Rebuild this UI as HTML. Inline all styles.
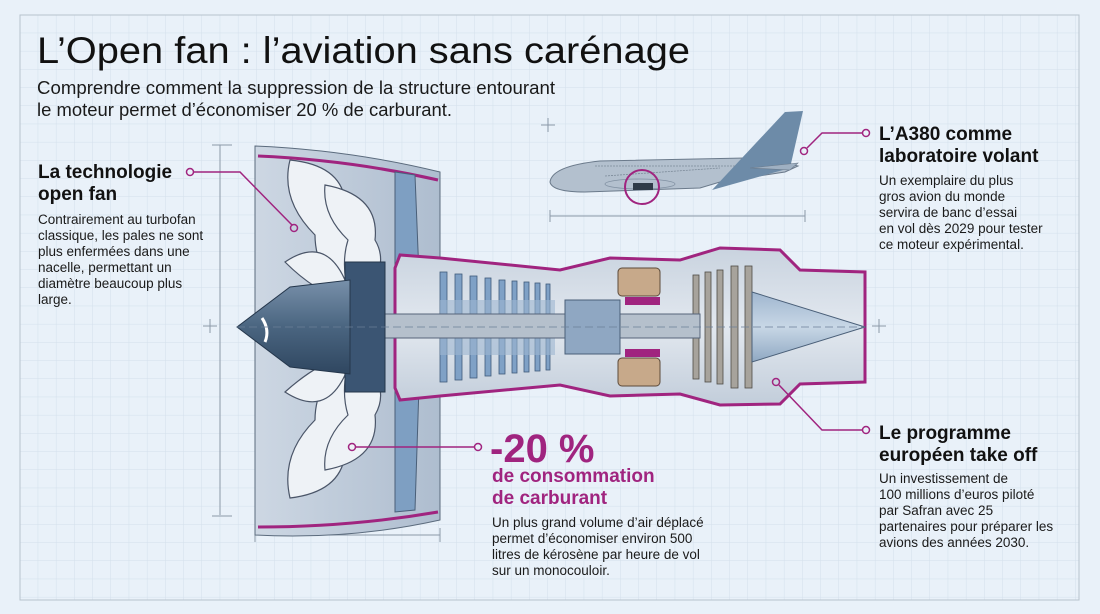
<!DOCTYPE html>
<html><head><meta charset="utf-8"><style>
html,body{margin:0;padding:0;background:#e9f1f9;}
svg{display:block}
text{font-family:"Liberation Sans",sans-serif;}
.h{font-weight:bold;font-size:19px;fill:#111}
.b{font-size:13.5px;fill:#1a1a1a}
.m{fill:#a0247f;font-weight:bold}
</style></head><body>
<svg width="1100" height="614" viewBox="0 0 1100 614" xmlns="http://www.w3.org/2000/svg">
<defs>
<pattern id="g" x="20" y="15" width="18.2" height="18.2" patternUnits="userSpaceOnUse">
<path d="M18.2 0V18.2H0" fill="none" stroke="#d3dfeb" stroke-width="1"/>
</pattern>
<linearGradient id="nac" x1="0" x2="1"><stop offset="0" stop-color="#cdd7e3"/><stop offset="1" stop-color="#aebdcf"/></linearGradient>
<linearGradient id="core" x1="0" y1="0" x2="0" y2="1"><stop offset="0" stop-color="#c9d3df"/><stop offset=".5" stop-color="#e2e8ef"/><stop offset="1" stop-color="#c2cdda"/></linearGradient>
<linearGradient id="cone" x1="0" y1="0" x2="0" y2="1"><stop offset="0" stop-color="#9fb6cf"/><stop offset=".5" stop-color="#c8d7e6"/><stop offset="1" stop-color="#8fa8c2"/></linearGradient>
<linearGradient id="sp" x1="0" y1="0" x2="0" y2="1"><stop offset="0" stop-color="#7890aa"/><stop offset=".5" stop-color="#4a6580"/><stop offset="1" stop-color="#2f4660"/></linearGradient>
</defs>
<rect width="1100" height="614" fill="#e9f1f9"/>
<rect x="20" y="15" width="1059" height="585" fill="url(#g)" stroke="#b7c2cd" stroke-width="1"/>

<text x="37" y="63" font-size="37" fill="#111" textLength="653" lengthAdjust="spacingAndGlyphs">L’Open fan : l’aviation sans carénage</text>
<text x="37" y="94" font-size="18.5" fill="#1a1a1a" textLength="518" lengthAdjust="spacingAndGlyphs">Comprendre comment la suppression de la structure entourant</text>
<text x="37" y="116" font-size="18.5" fill="#1a1a1a" textLength="415" lengthAdjust="spacingAndGlyphs">le moteur permet d’économiser 20 % de carburant.</text>

<g stroke="#8c99a8" stroke-width="1" fill="none">
<path d="M220 145V515M212 145H232M212 516H232"/>
<path d="M255 535H440M255 528V542M440 528V542"/>
<path d="M550 216H805M550 210V222M805 210V222"/>
<path d="M203 326H217M210 319V333M541 125H555M548 118V132M872 326H886M879 319V333"/>
</g>

<path d="M255 146 Q350 150 440 172 V520 Q350 540 255 535 Z" fill="url(#nac)" stroke="#5b6b7d"/>
<path d="M258 156 Q350 160 438 180" stroke="#a0247f" stroke-width="3" fill="none"/>
<path d="M258 527 Q350 527 438 512" stroke="#a0247f" stroke-width="3" fill="none"/>
<path d="M395 172 L415 175 L420 300 L395 300 Z" fill="#7e9fc2" stroke="#4a5f78"/>
<path d="M395 355 L420 355 L415 510 L395 512 Z" fill="#7e9fc2" stroke="#4a5f78"/>
<g fill="#eef2f6" stroke="#4a5568" stroke-width="1.2">
<path d="M290 160 Q340 165 345 200 Q375 225 355 255 L345 300 Q315 270 315 235 Q280 200 290 160Z"/>
<path d="M325 185 Q380 195 375 240 Q390 265 365 295 L350 300 Q340 265 348 240 Q322 215 325 185Z"/>
<path d="M290 498 Q340 492 345 455 Q375 430 355 400 L345 355 Q315 385 315 420 Q280 455 290 498Z"/>
<path d="M325 470 Q380 460 375 415 Q390 390 365 360 L350 355 Q340 390 348 415 Q322 440 325 470Z"/>
<path d="M285 262 Q325 235 345 280 L345 300 Q315 292 285 262Z"/>
<path d="M285 392 Q325 418 345 375 L345 355 Q315 365 285 392Z"/>
</g>
<path d="M395 268 L400 255 L440 258 L560 270 L610 258 L680 260 L720 248 L780 250 L800 270 L865 272 V382 L800 384 L780 404 L720 405 L680 394 L610 396 L560 385 L440 396 L400 400 L395 388 Z" fill="url(#core)" stroke="#a0247f" stroke-width="3"/>
<g fill="#7fa1c6" stroke="#3f5b7a" stroke-width=".8">
<rect x="440" y="272" width="7" height="110"/><rect x="455" y="274" width="7" height="106"/><rect x="470" y="276" width="7" height="102"/><rect x="485" y="278" width="6" height="98"/><rect x="499" y="280" width="6" height="94"/><rect x="512" y="281" width="5" height="92"/><rect x="524" y="282" width="5" height="90"/><rect x="535" y="283" width="5" height="88"/><rect x="546" y="284" width="4" height="86"/>
</g>
<rect x="440" y="300" width="115" height="55" fill="#9db6d1" opacity=".6"/>
<rect x="618" y="268" width="42" height="28" rx="4" fill="#c7a98a" stroke="#5c4a3a"/>
<rect x="618" y="358" width="42" height="28" rx="4" fill="#c7a98a" stroke="#5c4a3a"/>
<rect x="625" y="297" width="35" height="8" fill="#a0247f"/>
<rect x="625" y="349" width="35" height="8" fill="#a0247f"/>
<g fill="#a7a39c" stroke="#4e4a45" stroke-width=".8">
<rect x="693" y="275" width="6" height="104"/><rect x="705" y="272" width="6" height="110"/><rect x="717" y="270" width="6" height="114"/><rect x="731" y="266" width="7" height="122"/><rect x="745" y="266" width="7" height="122"/>
</g>
<rect x="380" y="314" width="320" height="24" fill="#b5c0cc" stroke="#56657a"/>
<rect x="565" y="300" width="55" height="54" fill="#8fa7c2" stroke="#4a5f78"/>
<path d="M752 292 L865 327 L752 362 Z" fill="url(#cone)" stroke="#4a5f78"/>
<rect x="345" y="262" width="40" height="130" fill="#3b5573" stroke="#24364b"/>
<path d="M237 327 L290 287 L350 280 V374 L290 367 Z" fill="url(#sp)" stroke="#24364b"/>
<path d="M262 318 Q270 330 265 342" stroke="#fff" stroke-width="3" fill="none"/>
<line x1="237" y1="327" x2="865" y2="327" stroke="#6b7f96" stroke-dasharray="8 4" stroke-width=".7"/>

<!-- plane -->
<path d="M550 182 Q552 166 600 161 L745 158 L775 160 L798 166 L785 172 L720 182 L700 188 L585 192 Q552 192 550 182Z" fill="#b3c0ce" stroke="#6b7a8b"/>
<path d="M712 190 L785 112 L803 111 L790 168 Z" fill="#6d8ba8"/>
<path d="M750 168 L798 163 L790 170 Z" fill="#9fb0c2" stroke="#6b7a8b" stroke-width=".6"/>
<path d="M605 176 L720 168 M595 166 H735" stroke="#7d8b9a" stroke-dasharray="2 1" stroke-width=".8"/>
<ellipse cx="640" cy="184" rx="35" ry="5" fill="none" stroke="#8090a2" stroke-width=".8"/>
<circle cx="642" cy="187" r="17" fill="none" stroke="#a0247f" stroke-width="2"/>
<rect x="633" y="183" width="20" height="7" fill="#2f3b48"/>

<g stroke="#a0247f" stroke-width="1.5" fill="none">
<path d="M194 172 H240 L292 225"/><circle cx="190" cy="172" r="3.5"/><circle cx="294" cy="228" r="3.5"/>
<path d="M862 133 H822 L807 148"/><circle cx="866" cy="133" r="3.5"/><circle cx="804" cy="151" r="3.5"/>
<path d="M862 430 H822 L779 385"/><circle cx="866" cy="430" r="3.5"/><circle cx="776" cy="382" r="3.5"/>
<path d="M356 447 H474"/><circle cx="352" cy="447" r="3.5"/><circle cx="478" cy="447" r="3.5"/>
</g>

<text class="h" x="38" y="178">La technologie</text>
<text class="h" x="38" y="200">open fan</text>
<g class="b">
<text x="38" y="224">Contrairement au turbofan</text>
<text x="38" y="240">classique, les pales ne sont</text>
<text x="38" y="256">plus enfermées dans une</text>
<text x="38" y="272">nacelle, permettant un</text>
<text x="38" y="288">diamètre beaucoup plus</text>
<text x="38" y="304">large.</text>
</g>

<text class="h" x="879" y="140">L’A380 comme</text>
<text class="h" x="879" y="162">laboratoire volant</text>
<g class="b">
<text x="879" y="185">Un exemplaire du plus</text>
<text x="879" y="201">gros avion du monde</text>
<text x="879" y="217">servira de banc d’essai</text>
<text x="879" y="233">en vol dès 2029 pour tester</text>
<text x="879" y="249">ce moteur expérimental.</text>
</g>
<text class="h" x="879" y="439">Le programme</text>
<text class="h" x="879" y="461">européen take off</text>
<g class="b">
<text x="879" y="483">Un investissement de</text>
<text x="879" y="499">100 millions d’euros piloté</text>
<text x="879" y="515">par Safran avec 25</text>
<text x="879" y="531">partenaires pour préparer les</text>
<text x="879" y="547">avions des années 2030.</text>
</g>

<text class="m" x="490" y="462" font-size="40">-20 %</text>
<text class="m" x="492" y="482" font-size="19">de consommation</text>
<text class="m" x="492" y="504" font-size="19">de carburant</text>
<g class="b">
<text x="492" y="527">Un plus grand volume d’air déplacé</text>
<text x="492" y="543">permet d’économiser environ 500</text>
<text x="492" y="559">litres de kérosène par heure de vol</text>
<text x="492" y="575">sur un monocouloir.</text>
</g>
</svg>
</body></html>
